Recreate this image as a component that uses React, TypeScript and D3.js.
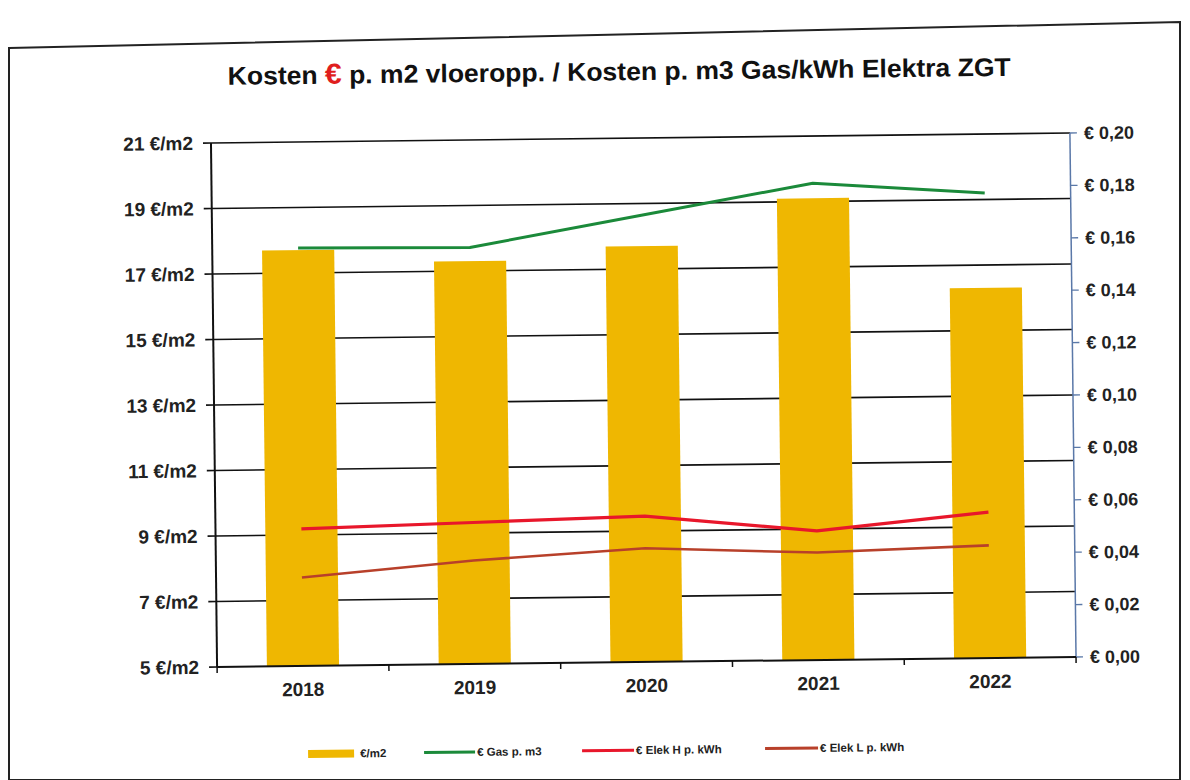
import React from "react";
import * as d3 from "d3";

const years = ["2018", "2019", "2020", "2021", "2022"];
const costPerM2 = [17.7, 17.3, 17.7, 19.1, 16.3];
const gasPerM3 = [0.1595, 0.159, 0.1705, 0.182, 0.1775];
const elekH = [0.0523, 0.054, 0.0557, 0.0493, 0.0557];
const elekL = [0.0338, 0.0395, 0.0434, 0.041, 0.043];
const leftTicks = [5, 7, 9, 11, 13, 15, 17, 19, 21];
const rightTicks = [0, 0.02, 0.04, 0.06, 0.08, 0.1, 0.12, 0.14, 0.16, 0.18, 0.2];

const W = 1190;
const H = 780;
const M = { left: 214, right: 1073, top: 138, bottom: 662 };
const FONT = "'Liberation Sans', Arial, sans-serif";

const colors = {
  bar: "#EFB701",
  gas: "#1B8A3A",
  elekH: "#E8172B",
  elekL: "#B8402A",
  rightAxis: "#5A78A8",
};

export default function App() {
  const x = d3
    .scaleBand<string>()
    .domain(years)
    .range([M.left, M.right])
    .paddingInner(0.58)
    .paddingOuter(0.29);
  const step = x.step();
  const cx = (d: string) => (x(d) as number) + x.bandwidth() / 2;
  const yL = d3.scaleLinear().domain([5, 21]).range([M.bottom, M.top]);
  const yR = d3.scaleLinear().domain([0, 0.2]).range([M.bottom, M.top]);

  const line = d3
    .line<number>()
    .x((_, i) => cx(years[i]))
    .y((v) => yR(v));

  const fmtR = (v: number) => "€ " + d3.format(".2f")(v).replace(".", ",");

  const series = [
    { name: "€ Gas p. m3", values: gasPerM3, color: colors.gas, w: 3 },
    { name: "€ Elek H p. kWh", values: elekH, color: colors.elekH, w: 3.2 },
    { name: "€ Elek L p. kWh", values: elekL, color: colors.elekL, w: 2.6 },
  ];

  const boundaries = d3.range(years.length + 1).map((i) => M.left + i * step);

  const legendY = 750;
  const legendItems = [
    { label: "€/m2", kind: "bar", color: colors.bar, x0: 304, x1: 350, tx: 356 },
    { label: "€ Gas p. m3", kind: "line", color: colors.gas, x0: 420, x1: 471, tx: 473 },
    { label: "€ Elek H p. kWh", kind: "line", color: colors.elekH, x0: 578, x1: 630, tx: 632 },
    { label: "€ Elek L p. kWh", kind: "line", color: colors.elekL, x0: 761, x1: 814, tx: 816 },
  ];

  return (
    <svg
      width={W}
      height={H}
      style={{ position: "absolute", left: 0, top: 0, background: "#fff" }}
      fontFamily={FONT}
    >
      <rect x={0} y={0} width={W} height={H} fill="#ffffff" />
      <path d="M9,48 L1180,22 L1180,780 L9,780 Z" fill="none" stroke="#222" strokeWidth={2} />
      <g transform={`rotate(-0.667 ${(M.left + M.right) / 2} 400)`}>
        <text x={623} y={80} textAnchor="middle" fontSize={25.5} fontWeight="bold" fill="#111"
          textLength={783} lengthAdjust="spacingAndGlyphs">
          Kosten <tspan fill="#E01E1E" fontSize={29}>€</tspan>  p. m2 vloeropp. / Kosten p. m3 Gas/kWh Elektra ZGT
        </text>

        {/* gridlines */}
        {leftTicks.slice(1).map((t) => (
          <line key={t} x1={M.left} x2={M.right} y1={yL(t)} y2={yL(t)} stroke="#111" strokeWidth={1.6} />
        ))}

        {/* bars */}
        {years.map((yr, i) => (
          <rect
            key={yr}
            x={x(yr)}
            y={yL(costPerM2[i])}
            width={x.bandwidth()}
            height={yL(5) - yL(costPerM2[i])}
            fill={colors.bar}
          />
        ))}

        {/* lines */}
        {series.map((s) => (
          <path
            key={s.name}
            d={line(s.values) || ""}
            fill="none"
            stroke={s.color}
            strokeWidth={s.w}
            strokeLinejoin="round"
          />
        ))}

        {/* left axis */}
        <line x1={M.left} x2={M.left} y1={M.top} y2={M.bottom} stroke="#111" strokeWidth={2} />
        {leftTicks.map((t) => (
          <g key={t}>
            <line x1={M.left - 8} x2={M.left} y1={yL(t)} y2={yL(t)} stroke="#111" strokeWidth={1.6} />
            <text x={M.left - 18} y={yL(t)} dy="0.35em" textAnchor="end" fontSize={19} fontWeight="bold" fill="#222">
              {t} €/m2
            </text>
          </g>
        ))}

        {/* right axis */}
        <line x1={M.right} x2={M.right} y1={M.top} y2={M.bottom} stroke={colors.rightAxis} strokeWidth={1.5} />
        {rightTicks.map((t) => (
          <g key={t}>
            <line x1={M.right} x2={M.right + 7} y1={yR(t)} y2={yR(t)} stroke={colors.rightAxis} strokeWidth={1.3} />
            <text x={M.right + 14} y={yR(t)} dy="0.35em" fontSize={18} fontWeight="bold" fill="#222">
              {fmtR(t)}
            </text>
          </g>
        ))}

        {/* x axis */}
        <line x1={M.left} x2={M.right} y1={M.bottom} y2={M.bottom} stroke="#111" strokeWidth={2} />
        {boundaries.map((b, i) => (
          <line key={i} x1={b} x2={b} y1={M.bottom} y2={M.bottom + 6} stroke="#111" strokeWidth={1.5} />
        ))}
        {years.map((yr) => (
          <text key={yr} x={cx(yr)} y={M.bottom + 30} textAnchor="middle" fontSize={19} fontWeight="bold" fill="#222">
            {yr}
          </text>
        ))}

        {/* legend */}
        {legendItems.map((it) => (
          <g key={it.label}>
            {it.kind === "bar" ? (
              <rect x={it.x0} y={legendY - 4} width={it.x1 - it.x0} height={8} fill={it.color} />
            ) : (
              <line x1={it.x0} x2={it.x1} y1={legendY} y2={legendY} stroke={it.color} strokeWidth={3} />
            )}
            <text x={it.tx} y={legendY} dy="0.35em" fontSize={11.5} fontWeight="bold" fill="#222">
              {it.label}
            </text>
          </g>
        ))}
      </g>
    </svg>
  );
}
